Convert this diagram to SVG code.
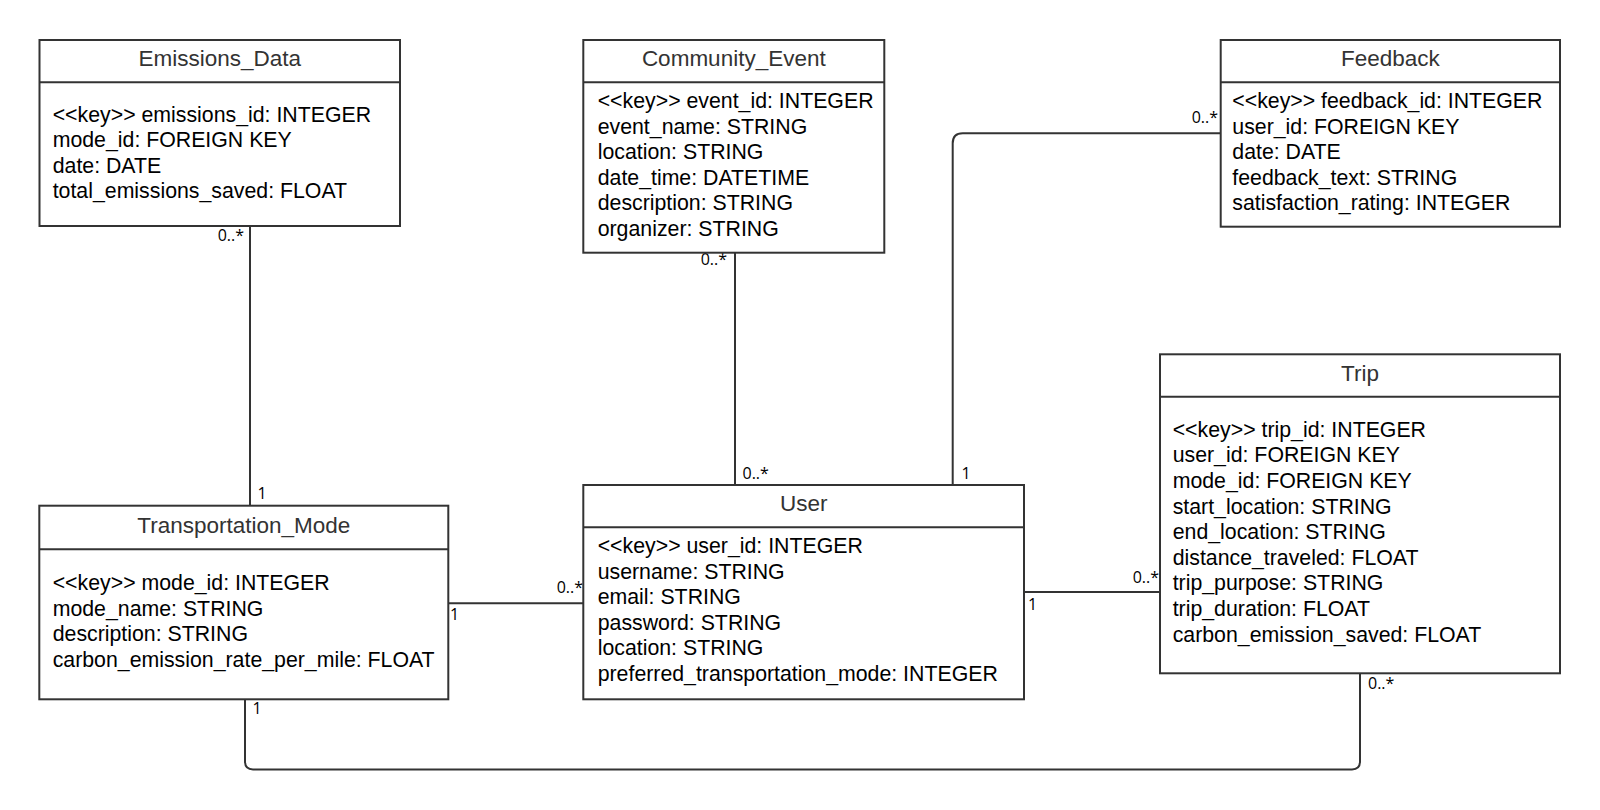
<svg xmlns="http://www.w3.org/2000/svg" width="1600" height="810" viewBox="0 0 1600 810">
<style>
.box{fill:#fff;stroke:#333;stroke-width:2}
.sep{stroke:#333;stroke-width:2}
.title{font-family:"Liberation Sans",Arial,sans-serif;font-size:22.5px;fill:#333;text-anchor:middle}
.attr{font-family:"Liberation Sans",Arial,sans-serif;font-size:21.3px;fill:#000}
.conn{fill:none;stroke:#333;stroke-width:2}
.lbl{font-family:"Open Sans","Noto Sans",sans-serif;font-size:16px;fill:#000}
.end{text-anchor:end}
</style>
<rect width="1600" height="810" fill="#fff"/>
<g id="connectors">
<path class="conn" d="M250 226 V505.7"/>
<path class="conn" d="M735 252.7 V485"/>
<path class="conn" d="M952.7 485 V143.3 Q952.7 133.3 962.7 133.3 H1220.7"/>
<path class="conn" d="M448.3 603.3 H583.3"/>
<path class="conn" d="M1024 592 H1160"/>
<path class="conn" d="M245 699.3 V761.4 Q245 769.4 253 769.4 H1352 Q1360 769.4 1360 761.4 V673.3"/>
<text class="lbl end" x="244" y="241">0..*</text>
<text class="lbl" x="257.5" y="498.5">1</text>
<text class="lbl end" x="727" y="265">0..*</text>
<text class="lbl" x="742.5" y="478.5">0..*</text>
<text class="lbl end" x="1218" y="122.5">0..*</text>
<text class="lbl" x="961.5" y="478.5">1</text>
<text class="lbl end" x="583" y="592.5">0..*</text>
<text class="lbl" x="450" y="619.5">1</text>
<text class="lbl end" x="1159" y="582.5">0..*</text>
<text class="lbl" x="1028" y="609.5">1</text>
<text class="lbl" x="252.5" y="714">1</text>
<text class="lbl" x="1368" y="688.5">0..*</text>
</g>
<g id="emissions_data">
<rect class="box" x="39.5" y="40" width="360.5" height="186"/>
<line class="sep" x1="39.5" y1="82.3" x2="400" y2="82.3"/>
<text class="title" x="219.8" y="66">Emissions_Data</text>
<text class="attr" x="52.7" y="121.7">&lt;&lt;key&gt;&gt; emissions_id: INTEGER</text>
<text class="attr" x="52.7" y="147.2">mode_id: FOREIGN KEY</text>
<text class="attr" x="52.7" y="172.7">date: DATE</text>
<text class="attr" x="52.7" y="198.2">total_emissions_saved: FLOAT</text>
</g>
<g id="community_event">
<rect class="box" x="583.3" y="40" width="301" height="212.7"/>
<line class="sep" x1="583.3" y1="82.3" x2="884.3" y2="82.3"/>
<text class="title" x="733.8" y="66">Community_Event</text>
<text class="attr" x="597.7" y="108.3">&lt;&lt;key&gt;&gt; event_id: INTEGER</text>
<text class="attr" x="597.7" y="133.8">event_name: STRING</text>
<text class="attr" x="597.7" y="159.3">location: STRING</text>
<text class="attr" x="597.7" y="184.8">date_time: DATETIME</text>
<text class="attr" x="597.7" y="210.3">description: STRING</text>
<text class="attr" x="597.7" y="235.8">organizer: STRING</text>
</g>
<g id="feedback">
<rect class="box" x="1220.7" y="40" width="339.3" height="186.7"/>
<line class="sep" x1="1220.7" y1="82.3" x2="1560" y2="82.3"/>
<text class="title" x="1390.3" y="66">Feedback</text>
<text class="attr" x="1232.3" y="108.3">&lt;&lt;key&gt;&gt; feedback_id: INTEGER</text>
<text class="attr" x="1232.3" y="133.8">user_id: FOREIGN KEY</text>
<text class="attr" x="1232.3" y="159.3">date: DATE</text>
<text class="attr" x="1232.3" y="184.8">feedback_text: STRING</text>
<text class="attr" x="1232.3" y="210.3">satisfaction_rating: INTEGER</text>
</g>
<g id="transportation_mode">
<rect class="box" x="39.3" y="505.7" width="409" height="193.6"/>
<line class="sep" x1="39.3" y1="549.3" x2="448.3" y2="549.3"/>
<text class="title" x="243.8" y="532.5">Transportation_Mode</text>
<text class="attr" x="52.7" y="590">&lt;&lt;key&gt;&gt; mode_id: INTEGER</text>
<text class="attr" x="52.7" y="615.5">mode_name: STRING</text>
<text class="attr" x="52.7" y="641">description: STRING</text>
<text class="attr" x="52.7" y="666.5">carbon_emission_rate_per_mile: FLOAT</text>
</g>
<g id="user">
<rect class="box" x="583.3" y="485" width="440.7" height="214.3"/>
<line class="sep" x1="583.3" y1="527.3" x2="1024" y2="527.3"/>
<text class="title" x="803.7" y="511">User</text>
<text class="attr" x="597.7" y="553.3">&lt;&lt;key&gt;&gt; user_id: INTEGER</text>
<text class="attr" x="597.7" y="578.8">username: STRING</text>
<text class="attr" x="597.7" y="604.3">email: STRING</text>
<text class="attr" x="597.7" y="629.8">password: STRING</text>
<text class="attr" x="597.7" y="655.3">location: STRING</text>
<text class="attr" x="597.7" y="680.8">preferred_transportation_mode: INTEGER</text>
</g>
<g id="trip">
<rect class="box" x="1160" y="354.3" width="400" height="319"/>
<line class="sep" x1="1160" y1="396.7" x2="1560" y2="396.7"/>
<text class="title" x="1360" y="381">Trip</text>
<text class="attr" x="1172.7" y="436.7">&lt;&lt;key&gt;&gt; trip_id: INTEGER</text>
<text class="attr" x="1172.7" y="462.3">user_id: FOREIGN KEY</text>
<text class="attr" x="1172.7" y="487.9">mode_id: FOREIGN KEY</text>
<text class="attr" x="1172.7" y="513.5">start_location: STRING</text>
<text class="attr" x="1172.7" y="539.1">end_location: STRING</text>
<text class="attr" x="1172.7" y="564.7">distance_traveled: FLOAT</text>
<text class="attr" x="1172.7" y="590.3">trip_purpose: STRING</text>
<text class="attr" x="1172.7" y="615.9">trip_duration: FLOAT</text>
<text class="attr" x="1172.7" y="641.5">carbon_emission_saved: FLOAT</text>
</g>
</svg>
